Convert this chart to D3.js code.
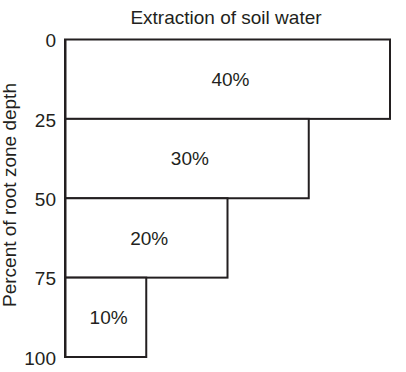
<!DOCTYPE html>
<html>
<head>
<meta charset="utf-8">
<script src="https://cdn.jsdelivr.net/npm/d3@7"></script>
<style>
  html, body { margin: 0; padding: 0; background: #fff; }
  svg { display: block; }
  text { font-family: "Liberation Sans", Arial, sans-serif; fill: #231f20; }
</style>
</head>
<body>
<svg id="chart" width="406" height="372"></svg>
<script>
// Data
const depthStart = [0, 25, 50, 75];      // percent of root zone depth (top of layer)
const depthEnd   = [25, 50, 75, 100];    // bottom of layer
const extraction = [40, 30, 20, 10];     // percent of soil water extracted
const barLabels  = ["40%", "30%", "20%", "10%"];
const yTicks     = [0, 25, 50, 75, 100];
const titleText  = "Extraction of soil water";
const yTitleText = "Percent of root zone depth";

const svg = d3.select("#chart");
const ink = "#231f20";

const x = d3.scaleLinear().domain([0, 40]).range([65, 390]);
const y = d3.scaleLinear().domain([0, 100]).range([39.5, 357]);

const layers = extraction.map((v, i) => ({ v, y0: depthStart[i], y1: depthEnd[i], label: barLabels[i] }));

// Bars
svg.append("g").selectAll("rect")
  .data(layers)
  .join("rect")
  .attr("x", x(0))
  .attr("y", d => y(d.y0))
  .attr("width", d => x(d.v) - x(0))
  .attr("height", d => y(d.y1) - y(d.y0))
  .attr("fill", "#fff")
  .attr("stroke", ink)
  .attr("stroke-width", 2);

// Bar labels
svg.append("g").selectAll("text")
  .data(layers)
  .join("text")
  .attr("x", d => (x(0) + x(d.v)) / 2 + 3)
  .attr("y", d => (y(d.y0) + y(d.y1)) / 2)
  .attr("dy", "0.35em")
  .attr("text-anchor", "middle")
  .style("font-size", "19px")
  .text(d => d.label);

// Y axis
const yAxis = d3.axisLeft(y).tickValues(yTicks).tickSize(0).tickPadding(9).tickFormat(d3.format("d"));
const gy = svg.append("g").attr("transform", `translate(${x(0)},0)`).call(yAxis);
gy.select(".domain").attr("stroke", ink).attr("stroke-width", 2);
gy.selectAll(".tick text")
  .style("font-size", "19px")
  .style("font-family", "'Liberation Sans', Arial, sans-serif")
  .attr("fill", ink)
  .attr("dy", "0.38em");

// Title
svg.append("text")
  .attr("x", 226)
  .attr("y", 24)
  .attr("text-anchor", "middle")
  .style("font-size", "19px")
  .text(titleText);

// Y axis title
svg.append("text")
  .attr("transform", `translate(16,195) rotate(-90)`)
  .attr("text-anchor", "middle")
  .style("font-size", "19px")
  .text(yTitleText);
</script>
</body>
</html>
